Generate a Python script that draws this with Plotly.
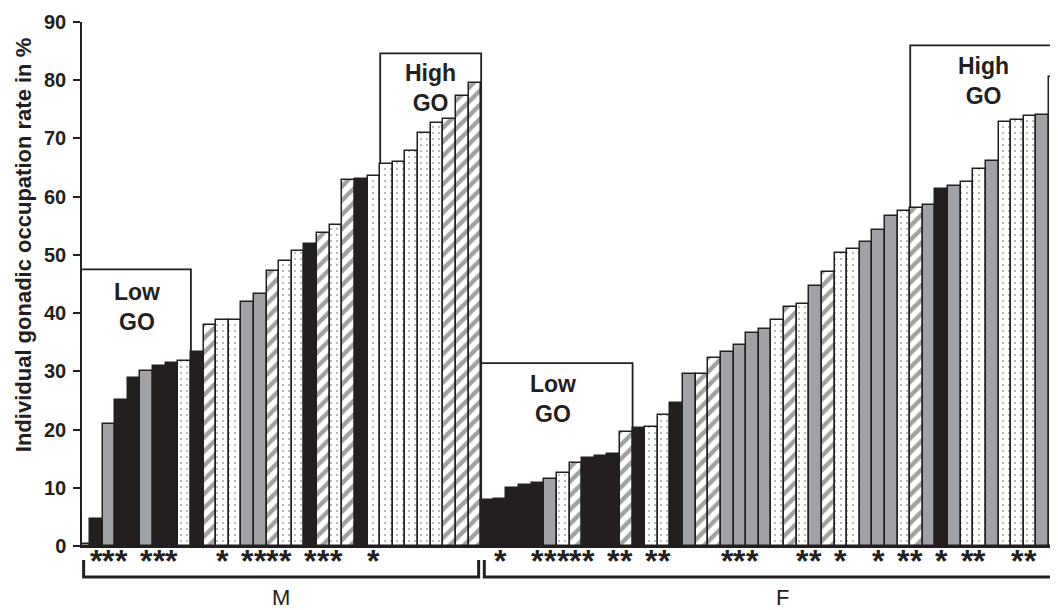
import plotly.graph_objects as go

# ---------------- data ----------------
male_values = [0.4, 4.6, 21.0, 25.1, 28.9, 30.1, 31.0, 31.4, 31.8, 33.4,
               38.0, 38.8, 38.9, 41.9, 43.2, 47.3, 49.0, 50.6, 51.9, 53.8,
               55.1, 62.8, 63.1, 63.5, 65.6, 66.0, 67.8, 70.9, 72.7, 73.4,
               77.3, 79.5]
male_types = ["dot", "black", "gray", "black", "black", "gray", "black", "black", "dot", "black",
              "hatch", "dot", "dot", "gray", "gray", "hatch", "dot", "dot", "black", "hatch",
              "dot", "hatch", "black", "dot", "dot", "dot", "dot", "dot", "dot", "hatch",
              "hatch", "hatch"]
male_star_idx = [1, 2, 3, 5, 6, 7, 11, 13, 14, 15, 16, 18, 19, 20, 23]

female_values = [7.9, 8.1, 10.0, 10.5, 10.9, 11.5, 12.5, 14.2, 15.2, 15.5,
                 15.8, 19.5, 20.3, 20.5, 22.5, 24.6, 29.5, 29.6, 32.3, 33.3,
                 34.5, 36.6, 37.2, 38.9, 41.0, 41.6, 44.6, 47.1, 50.3, 51.0,
                 52.2, 54.3, 56.6, 57.6, 58.1, 58.6, 61.4, 61.8, 62.5, 64.8,
                 66.1, 72.9, 73.1, 73.9, 74.0, 80.5]
female_types = ["black", "black", "black", "black", "black", "gray", "dot", "hatch", "black", "black",
                "black", "hatch", "black", "dot", "dot", "black", "gray", "hatch", "hatch", "gray",
                "gray", "gray", "gray", "dot", "hatch", "dot", "gray", "hatch", "dot", "dot",
                "gray", "gray", "gray", "dot", "hatch", "gray", "black", "gray", "dot", "dot",
                "gray", "dot", "dot", "dot", "gray", "dot"]
female_star_idx = [1, 4, 5, 6, 7, 8, 10, 11, 13, 14, 19, 20, 21, 25, 26, 28, 31, 33, 34, 36,
                   38, 39, 42, 43]

# group boxes: number of bars covered and box top value
male_low_n, male_low_top = 9, 47.5
male_high_n, male_high_top = 8, 84.6
female_low_n, female_low_top = 12, 31.4
female_high_n, female_high_top = 12, 86.0

group_labels = ["M", "F"]
y_ticks = [0, 10, 20, 30, 40, 50, 60, 70, 80, 90]
y_title = "Individual gonadic occupation rate in %"

# ---------------- styles ----------------
DARK = "#231f20"
GRAY = "#a1a2a5"
FONT = "Liberation Sans"
styles = {
    "black": dict(color=DARK, shape="", fg=DARK, size=8, sol=0.3),
    "gray": dict(color=GRAY, shape="", fg=GRAY, size=8, sol=0.3),
    "dot": dict(color="white", shape=".", fg="#a9a9a9", size=6, sol=0.09),
    "hatch": dict(color="white", shape="/", fg="#a6a6a6", size=10, sol=0.45),
}

nm = len(male_values)
nf = len(female_values)
values = male_values + female_values
types = male_types + female_types
xs = list(range(nm + nf))

fig = go.Figure()
fig.add_trace(go.Bar(
    x=xs, y=values, width=1.0,
    marker=dict(
        color=[styles[t]["color"] for t in types],
        line=dict(color=DARK, width=1.5),
        pattern=dict(
            shape=[styles[t]["shape"] for t in types],
            fgcolor=[styles[t]["fg"] for t in types],
            bgcolor=[styles[t]["color"] for t in types],
            size=[styles[t]["size"] for t in types],
            solidity=[styles[t]["sol"] for t in types],
            fillmode="overlay",
        ),
    ),
    hoverinfo="skip", showlegend=False,
))

# asterisks under the bars
star_x = male_star_idx + [nm + i for i in female_star_idx]
for sx in star_x:
    fig.add_annotation(text="*", x=sx, y=-0.0286, xref="x", yref="paper", showarrow=False,
                       yanchor="middle", xanchor="center",
                       font=dict(family=FONT, size=32, color=DARK, weight="bold"))

# group boxes
boxes = [
    (-0.5, male_low_n - 0.5, male_low_top),
    (nm - male_high_n - 0.5, nm - 0.5, male_high_top),
    (nm - 0.5, nm + female_low_n - 0.5, female_low_top),
    (nm + nf - female_high_n - 0.5, nm + nf + 2, female_high_top),
]
for x0, x1, top in boxes:
    fig.add_shape(type="rect", xref="x", yref="y", x0=x0, x1=x1, y0=0, y1=top,
                  line=dict(color=DARK, width=1.8), fillcolor="white", layer="below")

ann_font = dict(family=FONT, size=23, color=DARK, weight="bold")
box_text = [
    ("Low<br>GO", 4.23, 41.0),
    ("High<br>GO", nm - male_high_n / 2 - 0.5, 78.6),
    ("Low<br>GO", 37.2, 25.2),
    ("High<br>GO", 71.3, 79.9),
]
for txt, x, y in box_text:
    fig.add_annotation(text=txt, x=x, y=y, xref="x", yref="y", showarrow=False,
                       font=ann_font, align="center")

# brackets under groups
yb_top, yb_bot = -0.0267, -0.0592
brackets = [(0, nm - 0.7), (nm - 0.25, nm + nf + 2)]
for (bx0, bx1) in brackets:
    fig.add_shape(type="path", xref="x", yref="paper",
                  path=f"M {bx0},{yb_top} L {bx0},{yb_bot} L {bx1},{yb_bot} L {bx1},{yb_top}",
                  line=dict(color=DARK, width=3))

label_x = [(nm - 0.7) / 2, 55.4]
for lab, lx in zip(group_labels, label_x):
    fig.add_annotation(text=lab, x=lx, y=-0.099, xref="x", yref="paper", showarrow=False,
                       font=dict(family=FONT, size=22, color=DARK), yanchor="middle")

# y-axis title
fig.add_annotation(text=y_title, x=-0.0605, y=0.574, xref="paper", yref="paper",
                   showarrow=False, textangle=-90, xanchor="center", yanchor="middle",
                   font=dict(family=FONT, size=22, color=DARK, weight="bold"))

# page body has an 8px margin: figure is sized to fit the 1058x610 window
fig.update_layout(
    width=1050, height=602,
    margin=dict(l=74, r=0, t=14, b=64, autoexpand=False),
    paper_bgcolor="white", plot_bgcolor="white",
    bargap=0, barmode="overlay",
    showlegend=False,
)
fig.update_xaxes(range=[-0.13, 77.21], showticklabels=False, ticks="", showgrid=False,
                 zeroline=False, showline=True, linecolor=DARK, linewidth=1.5,
                 automargin=False)
fig.update_yaxes(range=[0, 90], tickvals=y_ticks, ticks="outside", ticklen=7, tickwidth=1.5,
                 tickcolor=DARK, showgrid=False, zeroline=False, showline=True,
                 linecolor=DARK, linewidth=1.5, automargin=False, ticklabelstandoff=3,
                 tickfont=dict(family=FONT, size=20, color=DARK, weight="bold"))

fig.write_html("out.html")
